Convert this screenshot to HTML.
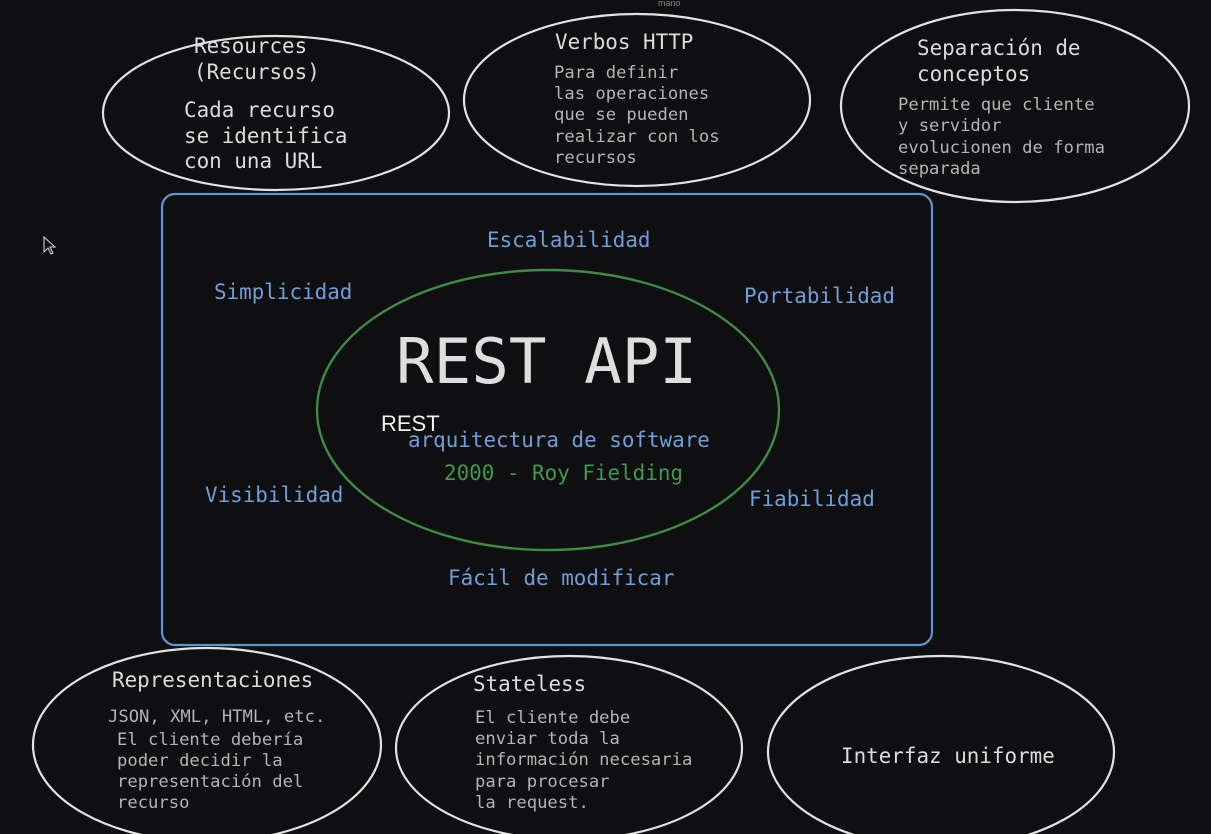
<!DOCTYPE html>
<html><head><meta charset="utf-8"><style>
html,body{margin:0;padding:0;background:#0f0f11;}
svg{display:block}
text{font-family:"DejaVu Sans Mono","Liberation Mono",monospace;}
.t{fill:#dcdcdc;font-size:20.9px}
.b{fill:#b4b4b4;font-size:17.2px}
.bl{fill:#6f9fd8;font-size:20.9px}
</style></head><body>
<svg width="1211" height="834" viewBox="0 0 1211 834">
<rect width="1211" height="834" fill="#0f0f11"/>
<g fill="none" stroke="#e2e2e2" stroke-width="2.2">
<ellipse cx="276" cy="113" rx="173" ry="77"/>
<ellipse cx="637" cy="100" rx="173" ry="86"/>
<ellipse cx="1015" cy="106" rx="174" ry="96"/>
<ellipse cx="207" cy="745" rx="174" ry="97"/>
<ellipse cx="569" cy="748" rx="173" ry="92"/>
<ellipse cx="941" cy="752" rx="173" ry="96"/>
</g>
<rect x="162" y="194" width="770" height="451" rx="13" fill="none" stroke="#5f95d6" stroke-width="2.2"/>
<ellipse cx="548" cy="410" rx="231" ry="140" fill="none" stroke="#3d8b45" stroke-width="2.4"/>
<text x="658" y="6" fill="#888" font-size="9" style="font-family:'Liberation Sans',sans-serif">mano</text>
<text class="t" x="194" y="53">Resources</text>
<text class="t" x="194" y="79">(Recursos)</text>
<text class="t" x="184" y="117">Cada recurso</text>
<text class="t" x="184" y="143">se identifica</text>
<text class="t" x="184" y="168">con una URL</text>
<text class="t" x="555" y="49">Verbos HTTP</text>
<text class="b" x="554" y="78">Para definir</text>
<text class="b" x="554" y="99">las operaciones</text>
<text class="b" x="554" y="120">que se pueden</text>
<text class="b" x="554" y="142">realizar con los</text>
<text class="b" x="554" y="163">recursos</text>
<text class="t" x="917" y="55">Separación de</text>
<text class="t" x="917" y="81">conceptos</text>
<text class="b" x="898" y="110">Permite que cliente</text>
<text class="b" x="898" y="131">y servidor</text>
<text class="b" x="898" y="153">evolucionen de forma</text>
<text class="b" x="898" y="174">separada</text>
<text class="bl" x="487" y="247">Escalabilidad</text>
<text class="bl" x="214" y="299">Simplicidad</text>
<text class="bl" x="744" y="303">Portabilidad</text>
<text class="bl" x="205" y="502">Visibilidad</text>
<text class="bl" x="749" y="506">Fiabilidad</text>
<text class="bl" x="448" y="585">Fácil de modificar</text>
<text x="396" y="383" fill="#dedede" font-size="62.5">REST API</text>
<text x="381" y="431" fill="#f0f0f0" font-size="22" style="font-family:'Liberation Sans',sans-serif">REST</text>
<text class="bl" x="408" y="447">arquitectura de software</text>
<text x="444" y="480" fill="#3f9a4c" font-size="20.9">2000 - Roy Fielding</text>
<text class="t" x="112" y="687">Representaciones</text>
<text class="b" x="108" y="722">JSON, XML, HTML, etc.</text>
<text class="b" x="117" y="745">El cliente debería</text>
<text class="b" x="117" y="766">poder decidir la</text>
<text class="b" x="117" y="787">representación del</text>
<text class="b" x="117" y="808">recurso</text>
<text class="t" x="473" y="691">Stateless</text>
<text class="b" x="475" y="723">El cliente debe</text>
<text class="b" x="475" y="744">enviar toda la</text>
<text class="b" x="475" y="765">información necesaria</text>
<text class="b" x="475" y="787">para procesar</text>
<text class="b" x="475" y="808">la request.</text>
<text class="t" x="841" y="763">Interfaz uniforme</text>
<path d="M44 237 L44 252 L48 248 L51 254 L53 253 L50 247 L55 247 Z" fill="#111" stroke="#ddd" stroke-width="1"/>
</svg>
</body></html>
